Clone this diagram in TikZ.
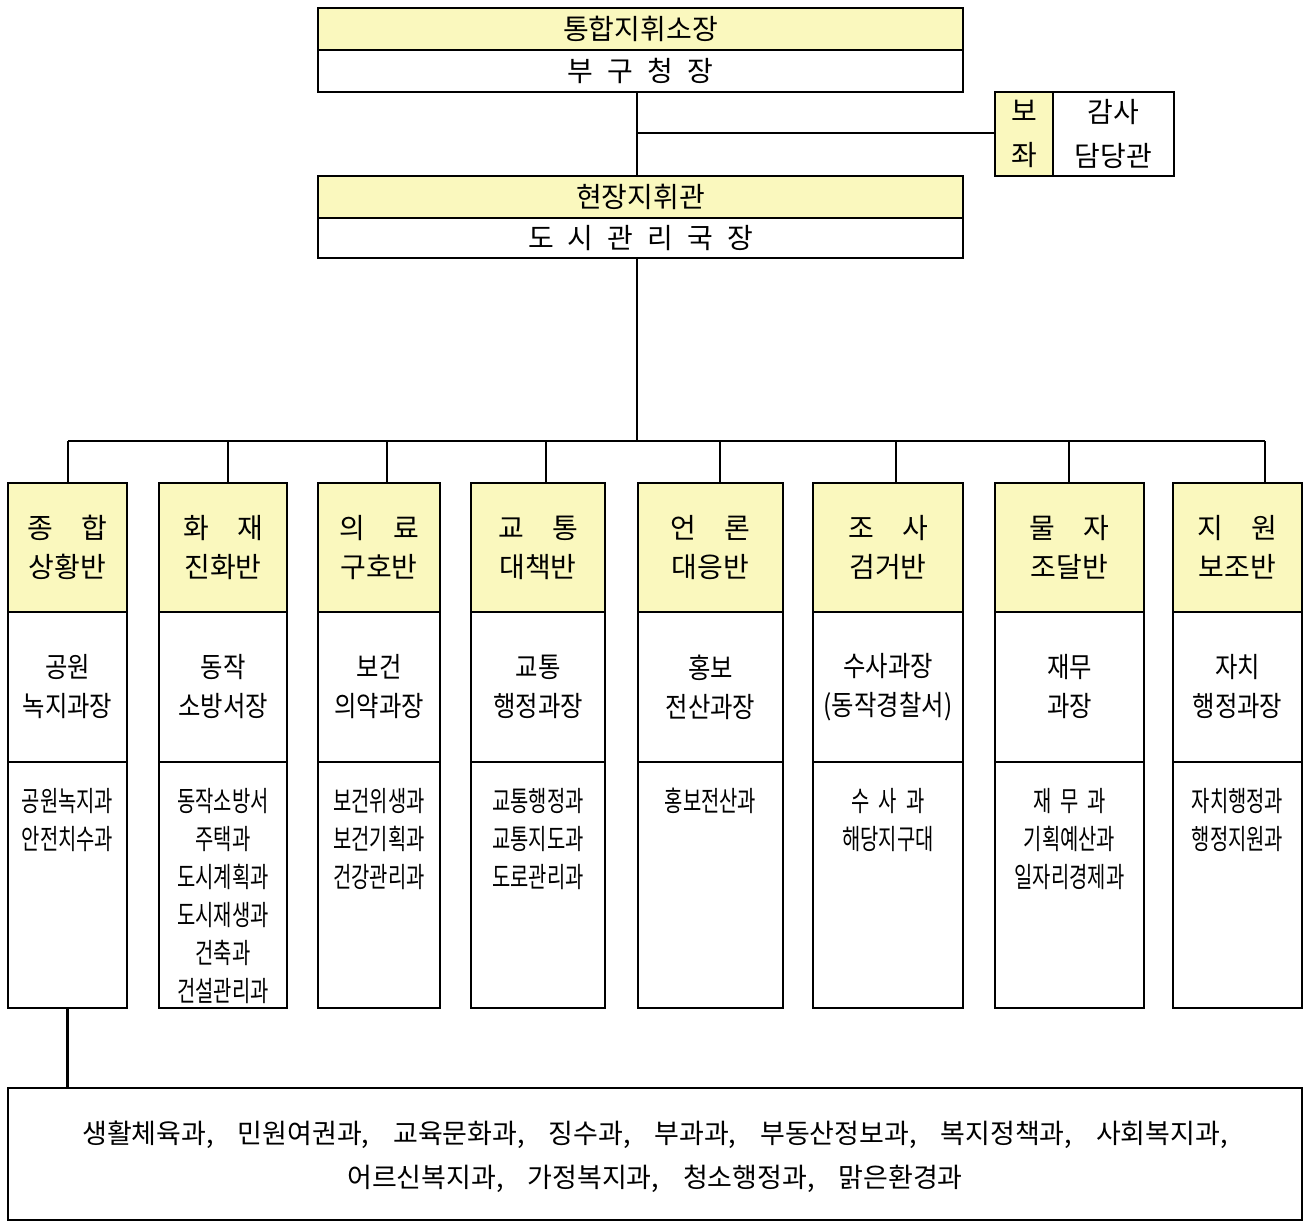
\documentclass[tikz,border=0pt]{standalone}
\usepackage{fontspec}
\newfontfamily\kr{Noto Sans CJK KR}
\newfontfamily\krm{Noto Sans CJK KR}[FakeStretch=0.87]
\newfontfamily\krc{Noto Sans CJK KR}[FakeStretch=0.71]
\definecolor{hdr}{RGB}{250,248,190}
\tikzset{
  box/.style={draw=black, line width=2.6pt, inner sep=0pt, outer sep=0pt, anchor=north west},
  ybox/.style={box, fill=hdr},
  wbox/.style={box, fill=white},
  conn/.style={line width=2.6pt},
  txt/.style={inner sep=0pt, align=center},
  hfont/.style={font=\kr\fontsize{28}{39}\selectfont},
  mfont/.style={font=\krm\fontsize{28}{39}\selectfont},
  cfont/.style={font=\krc\fontsize{28}{38}\selectfont},
  bfont/.style={font=\kr\fontsize{27}{44}\selectfont},
}
\newcommand\mkcol[7]{%
  \pgfmathsetmacro\colw{#3-#2}%
  \node[ybox, minimum width=\colw pt, minimum height=129pt] (#1h) at (#2,483) {};
  \node[wbox, minimum width=\colw pt, minimum height=150pt] (#1m) at (#2,612) {};
  \node[wbox, minimum width=\colw pt, minimum height=246pt] (#1b) at (#2,762) {};
  \node[txt, hfont] (#1ht) at (#1h.center) {#5};
  \node[txt, mfont] (#1mt) at (#1m.center) {#6};
  \node[txt, cfont, anchor=north] (#1bt) at ([yshift=-26pt]#1b.north) {#7};
  \coordinate (#1c) at (#4,441);
  \draw[conn] (#1c) -- (#1c |- #1h.north);
}
\newcommand\gap{\hspace{0.5em}}
\newcommand\sep{,\hspace{0.88em}}
\begin{document}
\begin{tikzpicture}[x=1pt,y=-1pt]
\useasboundingbox (0,0) rectangle (1305,1222);
% top boxes
\node[ybox, minimum width=645pt, minimum height=42pt] (topA) at (318,8) {};
\node[wbox, minimum width=645pt, minimum height=42pt] (topB) at (318,50) {};
\node[txt, hfont] (topAt) at (topA.center) {통합지휘소장};
\node[txt, hfont] (topBt) at (topB.center) {부\gap 구\gap 청\gap 장};
% side box
\node[ybox, minimum width=58pt, minimum height=84pt] (sideA) at (995,92) {};
\node[wbox, minimum width=121pt, minimum height=84pt] (sideB) at (1053,92) {};
\node[txt, font=\kr\fontsize{28}{44}\selectfont] (sideAt) at (sideA.center) {보\\좌};
\node[txt, font=\kr\fontsize{28}{44}\selectfont] (sideBt) at (sideB.center) {감사\\담당관};
% second boxes
\node[ybox, minimum width=645pt, minimum height=42pt] (midA) at (318,176) {};
\node[wbox, minimum width=645pt, minimum height=40pt] (midB) at (318,218) {};
\node[txt, hfont] (midAt) at (midA.center) {현장지휘관};
\node[txt, hfont] (midBt) at (midB.center) {도\gap 시\gap 관\gap 리\gap 국\gap 장};
% connectors top
\coordinate (jn) at (637,133);
\draw[conn] ([xshift=-3.5pt]topB.south) -- ([xshift=-3.5pt]midA.north);
\draw[conn] (jn) -- (jn -| sideA.west);
\coordinate (busM) at (637,441);
\coordinate (busL) at (68,441);
\coordinate (busR) at (1265,441);
\draw[conn] ([xshift=-3.5pt]midB.south) -- (busM);
\draw[conn] (busL) -- (busR);
% columns
\mkcol{c1}{8}{127}{68}{종\hspace{1em}합\\상황반}{공원\\녹지과장}{공원녹지과\\안전치수과}
\mkcol{c2}{159}{287}{228}{화\hspace{1em}재\\진화반}{동작\\소방서장}{동작소방서\\주택과\\도시계획과\\도시재생과\\건축과\\건설관리과}
\mkcol{c3}{318}{440}{387}{의\hspace{1em}료\\구호반}{보건\\의약과장}{보건위생과\\보건기획과\\건강관리과}
\mkcol{c4}{471}{605}{546}{교\hspace{1em}통\\대책반}{교통\\행정과장}{교통행정과\\교통지도과\\도로관리과}
\mkcol{c5}{638}{783}{720}{언\hspace{1em}론\\대응반}{홍보\\전산과장}{홍보전산과}
\mkcol{c6}{813}{963}{896}{조\hspace{1em}사\\검거반}{수사과장\\(동작경찰서)}{수\hspace{9pt}사\hspace{9pt}과\\해당지구대}
\mkcol{c7}{995}{1144}{1069}{물\hspace{1em}자\\조달반}{재무\\과장}{재\hspace{9pt}무\hspace{9pt}과\\기획예산과\\일자리경제과}
\mkcol{c8}{1173}{1302}{1265}{지\hspace{1em}원\\보조반}{자치\\행정과장}{자치행정과\\행정지원과}
% bottom box
\node[wbox, minimum width=1294pt, minimum height=132pt] (allb) at (8,1088) {};
\node[txt, bfont] (allbt) at ([yshift=-3pt]allb.center) {생활체육과\sep 민원여권과\sep 교육문화과\sep 징수과\sep 부과과\sep 부동산정보과\sep 복지정책과\sep 사회복지과,\\어르신복지과\sep 가정복지과\sep 청소행정과\sep 맑은환경과};
\draw[conn] (c1b.south) -- (c1b.south |- allb.north);
\end{tikzpicture}
\end{document}
